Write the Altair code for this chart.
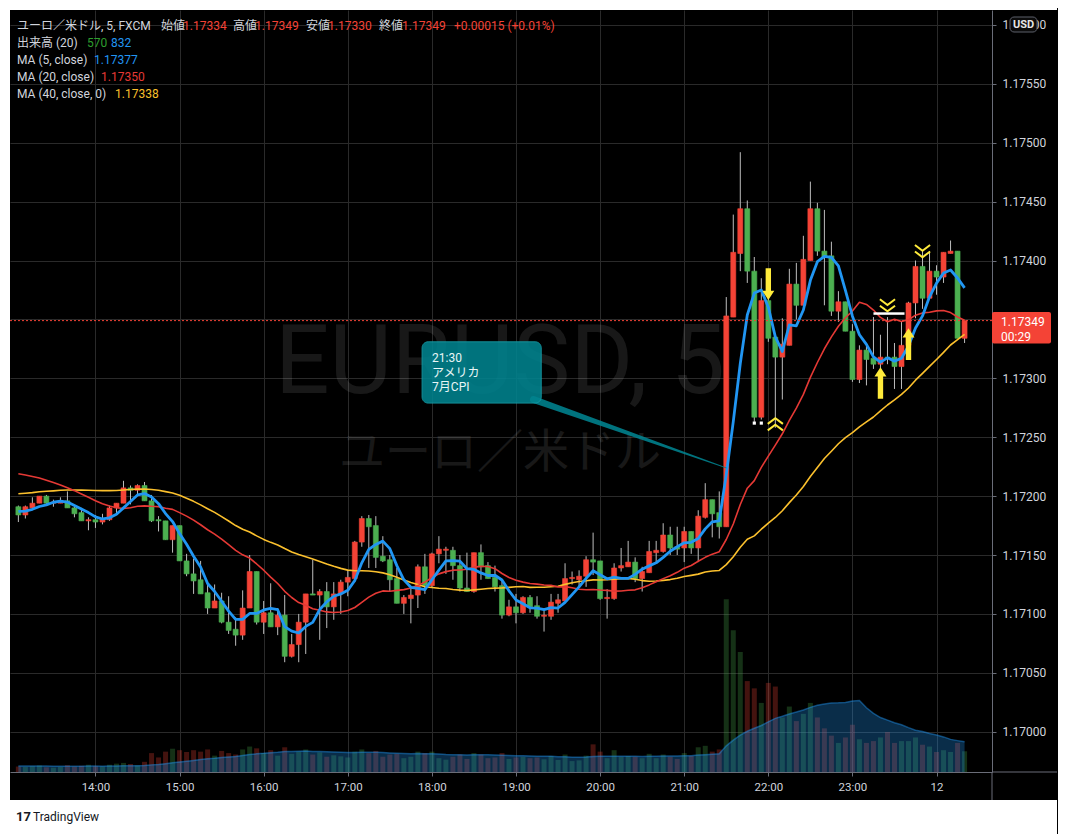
import altair as alt
import pandas as pd

# ---------------- data (EUR/USD 5-min, FXCM) ----------------
opens = [1.17191, 1.17184, 1.17190, 1.17194, 1.17200, 1.17194, 1.17194, 1.17196, 1.17190, 1.17186,
         1.17179, 1.17180, 1.17178, 1.17180, 1.17190, 1.17194, 1.17207, 1.17205, 1.17209, 1.17196,
         1.17180, 1.17179, 1.17163, 1.17175, 1.17145, 1.17134, 1.17129, 1.17118, 1.17105, 1.17111,
         1.17093, 1.17087, 1.17082, 1.17105, 1.17136, 1.17093, 1.17101, 1.17089, 1.17099, 1.17064,
         1.17074, 1.17093, 1.17117, 1.17116, 1.17119, 1.17106, 1.17117, 1.17127, 1.17130, 1.17161,
         1.17181, 1.17175, 1.17149, 1.17146, 1.17130, 1.17109, 1.17113, 1.17116, 1.17140, 1.17124,
         1.17151, 1.17154, 1.17154, 1.17141, 1.17122, 1.17119, 1.17152, 1.17141, 1.17131, 1.17124,
         1.17099, 1.17106, 1.17101, 1.17114, 1.17107, 1.17098, 1.17098, 1.17109, 1.17111, 1.17130,
         1.17129, 1.17132, 1.17146, 1.17145, 1.17113, 1.17113, 1.17139, 1.17140, 1.17144, 1.17130,
         1.17135, 1.17152, 1.17153, 1.17167, 1.17157, 1.17156, 1.17170, 1.17156, 1.17182, 1.17197,
         1.17186, 1.17174, 1.17352, 1.17406, 1.17444, 1.17391, 1.17267, 1.17366, 1.17335, 1.17318,
         1.17328, 1.17380, 1.17362, 1.17400, 1.17444, 1.17408, 1.17404, 1.17357, 1.17365, 1.17340,
         1.17299, 1.17324, 1.17317, 1.17312, 1.17318, 1.17318, 1.17310, 1.17328, 1.17364, 1.17395,
         1.17368, 1.17391, 1.17386, 1.17406, 1.17408, 1.17334]
highs = [1.17192, 1.17192, 1.17199, 1.17200, 1.17201, 1.17197, 1.17199, 1.17204, 1.17191, 1.17190,
         1.17182, 1.17184, 1.17185, 1.17192, 1.17194, 1.17213, 1.17209, 1.17210, 1.17212, 1.17201,
         1.17183, 1.17179, 1.17175, 1.17175, 1.17151, 1.17147, 1.17145, 1.17125, 1.17125, 1.17118,
         1.17115, 1.17097, 1.17120, 1.17150, 1.17136, 1.17111, 1.17126, 1.17105, 1.17116, 1.17083,
         1.17100, 1.17117, 1.17146, 1.17121, 1.17127, 1.17127, 1.17129, 1.17137, 1.17162, 1.17183,
         1.17184, 1.17183, 1.17166, 1.17150, 1.17139, 1.17116, 1.17123, 1.17142, 1.17151, 1.17152,
         1.17166, 1.17157, 1.17157, 1.17150, 1.17152, 1.17152, 1.17159, 1.17144, 1.17141, 1.17129,
         1.17112, 1.17117, 1.17115, 1.17116, 1.17115, 1.17105, 1.17117, 1.17117, 1.17143, 1.17136,
         1.17137, 1.17149, 1.17169, 1.17145, 1.17121, 1.17143, 1.17156, 1.17162, 1.17148, 1.17140,
         1.17162, 1.17162, 1.17177, 1.17174, 1.17174, 1.17174, 1.17170, 1.17188, 1.17211, 1.17197,
         1.17204, 1.17369, 1.17439, 1.17492, 1.17451, 1.17403, 1.17385, 1.17381, 1.17335, 1.17351,
         1.17393, 1.17398, 1.17421, 1.17467, 1.17449, 1.17443, 1.17416, 1.17374, 1.17365, 1.17346,
         1.17328, 1.17328, 1.17352, 1.17337, 1.17352, 1.17330, 1.17348, 1.17365, 1.17400, 1.17409,
         1.17408, 1.17396, 1.17407, 1.17417, 1.17408, 1.17349]
lows = [1.17178, 1.17181, 1.17189, 1.17194, 1.17192, 1.17191, 1.17194, 1.17190, 1.17182, 1.17179,
        1.17171, 1.17173, 1.17176, 1.17179, 1.17184, 1.17194, 1.17193, 1.17201, 1.17196, 1.17178,
        1.17170, 1.17163, 1.17152, 1.17145, 1.17132, 1.17117, 1.17117, 1.17100, 1.17105, 1.17092,
        1.17083, 1.17073, 1.17078, 1.17105, 1.17091, 1.17083, 1.17089, 1.17082, 1.17059, 1.17063,
        1.17059, 1.17066, 1.17116, 1.17078, 1.17088, 1.17095, 1.17100, 1.17115, 1.17127, 1.17157,
        1.17139, 1.17139, 1.17144, 1.17119, 1.17109, 1.17100, 1.17092, 1.17105, 1.17117, 1.17122,
        1.17143, 1.17134, 1.17129, 1.17119, 1.17119, 1.17118, 1.17129, 1.17130, 1.17119, 1.17096,
        1.17098, 1.17092, 1.17100, 1.17101, 1.17096, 1.17085, 1.17095, 1.17101, 1.17111, 1.17125,
        1.17123, 1.17123, 1.17133, 1.17112, 1.17096, 1.17112, 1.17136, 1.17140, 1.17127, 1.17119,
        1.17135, 1.17144, 1.17152, 1.17150, 1.17150, 1.17144, 1.17151, 1.17144, 1.17181, 1.17165,
        1.17164, 1.17174, 1.17352, 1.17391, 1.17381, 1.17263, 1.17265, 1.17331, 1.17258, 1.17282,
        1.17328, 1.17350, 1.17362, 1.17400, 1.17404, 1.17362, 1.17353, 1.17348, 1.17340, 1.17297,
        1.17296, 1.17294, 1.17308, 1.17301, 1.17312, 1.17291, 1.17291, 1.17328, 1.17351, 1.17359,
        1.17368, 1.17371, 1.17381, 1.17406, 1.17334, 1.17330]
closes = [1.17184, 1.17191, 1.17194, 1.17200, 1.17194, 1.17195, 1.17196, 1.17190, 1.17185, 1.17179,
          1.17180, 1.17178, 1.17181, 1.17190, 1.17194, 1.17207, 1.17205, 1.17209, 1.17196, 1.17179,
          1.17179, 1.17163, 1.17175, 1.17145, 1.17134, 1.17128, 1.17117, 1.17105, 1.17111, 1.17093,
          1.17086, 1.17082, 1.17105, 1.17136, 1.17093, 1.17101, 1.17089, 1.17099, 1.17064, 1.17074,
          1.17093, 1.17117, 1.17116, 1.17119, 1.17106, 1.17117, 1.17127, 1.17131, 1.17161, 1.17181,
          1.17174, 1.17148, 1.17145, 1.17129, 1.17109, 1.17114, 1.17116, 1.17140, 1.17124, 1.17151,
          1.17155, 1.17155, 1.17141, 1.17122, 1.17119, 1.17152, 1.17140, 1.17130, 1.17123, 1.17099,
          1.17106, 1.17101, 1.17114, 1.17106, 1.17098, 1.17099, 1.17110, 1.17112, 1.17130, 1.17131,
          1.17132, 1.17146, 1.17144, 1.17113, 1.17114, 1.17139, 1.17141, 1.17144, 1.17130, 1.17136,
          1.17153, 1.17154, 1.17167, 1.17156, 1.17155, 1.17170, 1.17156, 1.17183, 1.17197, 1.17185,
          1.17174, 1.17353, 1.17407, 1.17444, 1.17391, 1.17267, 1.17366, 1.17334, 1.17318, 1.17329,
          1.17380, 1.17362, 1.17401, 1.17444, 1.17408, 1.17403, 1.17357, 1.17365, 1.17340, 1.17299,
          1.17324, 1.17316, 1.17312, 1.17318, 1.17317, 1.17310, 1.17328, 1.17364, 1.17395, 1.17368,
          1.17391, 1.17386, 1.17407, 1.17408, 1.17334, 1.17349]
volumes = [150, 140, 160, 180, 130, 120, 140, 190, 150, 170, 200,
           160, 150, 200, 230, 250, 220, 180, 280,
           520, 400, 560, 640, 600, 550,
           600, 560, 620, 450, 580, 520,
           480, 620, 700, 650, 520, 600, 450, 680, 500, 560,
           620, 480, 540, 420, 460, 430, 400, 560, 620, 520,
           580, 420, 480, 500, 380, 420, 560, 520, 560, 380,
           340, 420, 480, 360, 520, 480, 380, 400, 520, 360,
           400, 420, 380, 400, 350, 440, 330, 480, 300, 320,
           450, 760, 560, 380, 600, 420, 440, 420, 380, 500,
           380, 480, 420, 360, 520, 440, 680, 720, 560, 620,
           4750, 3900, 3300, 2500, 2300, 1900, 2450, 2350, 1500, 1800, 1400, 1600, 1900, 1500, 1200,
           1000, 800, 950, 1300, 900, 800, 850, 950, 1100, 800, 850, 850, 950, 750, 700, 550, 600,
           550, 800, 570]
# closes / volumes just before the visible window (only seed the moving averages, not drawn)
prior_closes = [1.17172, 1.17175, 1.17170, 1.17178, 1.17180, 1.17176, 1.17182, 1.17185, 1.17181, 1.17186,
                1.17188, 1.17184, 1.17190, 1.17187, 1.17192, 1.17189, 1.17194, 1.17191, 1.17196, 1.17204,
                1.17212, 1.17220, 1.17226, 1.17231, 1.17235, 1.17238, 1.17236, 1.17234, 1.17237, 1.17235,
                1.17236, 1.17232, 1.17229, 1.17224, 1.17220, 1.17190, 1.17186, 1.17188, 1.17187]
prior_volumes = [180, 160, 170, 150, 190, 170, 160, 180, 150, 170, 160, 190, 170, 150, 180, 170, 160, 175, 165]

# signal markers drawn by an indicator (candle index, price)
arrow_down = [(107, 1.17380)]
arrow_up = [(123, 1.17296), (127, 1.17329)]
chevron_up = [(108, 1.17261)]
chevron_down = [(124, 1.17362), (129, 1.17408)]
white_dots = [(105, 1.17262), (106, 1.17262)]
white_level = (122, 127, 1.17355)

# callout drawing (TradingView "callout" anchored in time / price)
callout_lines = ["21:30", "アメリカ", "7月CPI"]
callout_box = ("2021-08-11T17:53:00", "2021-08-11T19:18:00", 1.17331, 1.17279)
callout_base = ("2021-08-11T19:12:30", 1.17282)
callout_tip = (101, 1.17224)

# ---------------- styling ----------------
RED = "#f44336"
GREEN = "#4caf50"
WICK = "#bdbdbd"
GRID = "#2a2a2a"
AXISLINE = "#6a6d78"
LABEL = "#d1d4dc"
MA5C, MA20C, MA40C = "#2196f3", "#e53935", "#fbc02d"
YEL = "#ffeb3b"
TEAL = "#00838f"
FONT = "Roboto, 'Noto Sans CJK JP', sans-serif"
JP = "'Noto Sans CJK JP', sans-serif"

times = pd.date_range("2021-08-11 13:05", periods=len(closes), freq="5min")
prior_times = pd.date_range(end=times[0] - pd.Timedelta(minutes=5), periods=len(prior_closes), freq="5min")
iso = lambda ts: ts.strftime("%Y-%m-%dT%H:%M:%S")
T = [iso(t) for t in times]

rows = []
skip = len(prior_closes) - len(prior_volumes)
for i, ts in enumerate(prior_times):
    rows.append({"t": iso(ts), "open": None, "high": None, "low": None, "close": prior_closes[i],
                 "volume": prior_volumes[i - skip] if i >= skip else None, "vis": 0})
for i in range(len(closes)):
    rows.append({"t": T[i], "open": opens[i], "high": highs[i], "low": lows[i], "close": closes[i],
                 "volume": volumes[i], "vis": 1})
df = pd.DataFrame(rows)

x_dom = [alt.DateTime(year=2021, month=8, date=11, hours=13, minutes=2, seconds=36),
         alt.DateTime(year=2021, month=8, date=12, hours=0, minutes=36)]
x_ticks = [alt.DateTime(year=2021, month=8, date=11, hours=h) for h in range(14, 24)] + \
          [alt.DateTime(year=2021, month=8, date=12, hours=0)]
XAXIS = alt.Axis(values=x_ticks, labelExpr="hours(datum.value) == 0 ? '12' : timeFormat(datum.value, '%H:%M')",
                 grid=True, gridColor=GRID, domainColor=AXISLINE, tickColor=AXISLINE, tickSize=4,
                 labelColor=LABEL, labelFont=FONT, labelFontSize=11.5, labelPadding=5, labelFlush=False,
                 title=None)
p_dom = [1.169658, 1.176127]
p_ticks = [round(1.170 + 0.0005 * k, 5) for k in range(13)]
PAXIS = alt.Axis(orient="right", values=p_ticks, format=".5f", grid=True, gridColor=GRID,
                 domainColor=AXISLINE, tickColor=AXISLINE, tickSize=4, labelColor=LABEL, labelFont=FONT,
                 labelFontSize=12, labelPadding=6, labelFlush=False, title=None)
VSCALE = alt.Scale(domain=[0, 20955], nice=False)


def xt(field):
    return alt.X(f"{field}:T", scale=alt.Scale(domain=x_dom), axis=XAXIS)


def yp(field):
    return alt.Y(f"{field}:Q", scale=alt.Scale(domain=p_dom, zero=False, nice=False), axis=PAXIS)


dummy = pd.DataFrame({"d": [0]})


def txt(s, x, y, color, size=12, align="left", baseline="middle", font=FONT, weight="normal", opacity=1.0):
    return alt.Chart(dummy).mark_text(text=s, align=align, baseline=baseline, font=font, fontSize=size,
                                      fontWeight=weight, color=color, opacity=opacity).encode(
        x=alt.value(x), y=alt.value(y))


def box(x, x2, y, y2, fill, stroke=None, radius=0, opacity=1.0, sw=1):
    kw = dict(color=fill, cornerRadius=radius, opacity=opacity)
    if stroke:
        kw.update(stroke=stroke, strokeWidth=sw)
    return alt.Chart(dummy).mark_rect(**kw).encode(x=alt.value(x), x2=alt.value(x2), y=alt.value(y),
                                                    y2=alt.value(y2))


def seg(x, x2, y, y2, color, w=1):
    return alt.Chart(dummy).mark_rule(color=color, strokeWidth=w).encode(
        x=alt.value(x), x2=alt.value(x2), y=alt.value(y), y2=alt.value(y2))


base = alt.Chart(df)
vis = base.transform_filter("datum.vis == 1")
up = "datum.close >= datum.open"

# volume pane
vbase = base.transform_window(vma="mean(volume)", frame=[-19, 0], sort=[alt.SortField("t")]) \
    .transform_filter("datum.vis == 1")
vbars = vbase.mark_bar(size=5, opacity=0.28).encode(
    x=xt("t"), y=alt.Y("volume:Q", scale=VSCALE, axis=None),
    color=alt.condition(up, alt.value(GREEN), alt.value(RED)))
varea = vbase.mark_area(color="#2196f3", opacity=0.30).encode(
    x=xt("t"), y=alt.Y("vma:Q", scale=VSCALE, axis=None))
vline = vbase.mark_line(color="#2196f3", opacity=0.45, strokeWidth=1.5).encode(
    x=xt("t"), y=alt.Y("vma:Q", scale=VSCALE, axis=None))
vol_layer = alt.layer(vbars, varea, vline)

# candles
wicks = vis.mark_rule(color=WICK, strokeWidth=1).encode(x=xt("t"), y=yp("low"), y2="high:Q")
bodies = vis.mark_bar(size=5, strokeWidth=0.6).encode(
    x=xt("t"), y=yp("open"), y2="close:Q",
    color=alt.condition(up, alt.value(RED), alt.value(GREEN)),
    stroke=alt.condition(up, alt.value(RED), alt.value(GREEN)))


def ma(n, name, color, width):
    return base.transform_window(**{name: "mean(close)"}, frame=[-(n - 1), 0], sort=[alt.SortField("t")]) \
        .transform_filter("datum.vis == 1") \
        .mark_line(color=color, strokeWidth=width, strokeJoin="round").encode(x=xt("t"), y=yp(name))


ma40 = ma(40, "ma40", MA40C, 1.6)
ma20 = ma(20, "ma20", MA20C, 1.6)
ma5 = ma(5, "ma5", MA5C, 2.8)

# signal markers
DOWN_ARROW = "M-0.17,-1 L0.17,-1 L0.17,0.42 L0.38,0.42 L0,1 L-0.38,0.42 L-0.17,0.42 Z"
UP_ARROW = "M-0.17,1 L0.17,1 L0.17,-0.42 L0.38,-0.42 L0,-1 L-0.38,-0.42 L-0.17,-0.42 Z"
CHEV_DOWN = "M-1,-0.8 L0,-0.05 L1,-0.8 M-1,0.05 L0,0.8 L1,0.05"
CHEV_UP = "M-1,0.8 L0,0.05 L1,0.8 M-1,-0.05 L0,-0.8 L1,-0.05"


def sig_df(items):
    return pd.DataFrame({"t": [T[i] for i, _ in items], "p": [p for _, p in items]})


sig_layers = [
    alt.Chart(sig_df(arrow_down)).mark_point(shape=DOWN_ARROW, filled=True, size=1000, color=YEL, opacity=1)
    .encode(x=xt("t"), y=yp("p")),
    alt.Chart(sig_df(arrow_up)).mark_point(shape=UP_ARROW, filled=True, size=1000, color=YEL, opacity=1)
    .encode(x=xt("t"), y=yp("p")),
    alt.Chart(sig_df(chevron_up)).mark_point(shape=CHEV_UP, filled=False, size=230, color=YEL, strokeWidth=2,
                                             opacity=1).encode(x=xt("t"), y=yp("p")),
    alt.Chart(sig_df(chevron_down)).mark_point(shape=CHEV_DOWN, filled=False, size=230, color=YEL,
                                               strokeWidth=2, opacity=1).encode(x=xt("t"), y=yp("p")),
    alt.Chart(sig_df(white_dots)).mark_square(size=10, color="white", opacity=1)
    .encode(x=xt("t"), y=yp("p")),
    alt.Chart(pd.DataFrame({"t": [T[white_level[0]]], "t2": [T[white_level[1]]], "p": [white_level[2]]}))
    .mark_rule(color="white", strokeWidth=2.5, x2Offset=-4).encode(x=xt("t"), x2="t2:T", y=yp("p")),
]

# current price line + label
last = pd.DataFrame({"p": [closes[-1]]})
price_line = alt.Chart(last).mark_rule(color=RED, strokeDash=[2, 2], strokeWidth=1).encode(y=yp("p"))
price_box = alt.Chart(last).mark_rect(color=RED, cornerRadius=2, yOffset=-8.5, y2Offset=23).encode(
    x=alt.value(982), x2=alt.value(1041), y=yp("p"), y2="p:Q")
price_txt1 = alt.Chart(last).mark_text(text=f"{closes[-1]:.5f}", align="left", baseline="middle", dy=1,
                                       font=FONT, fontSize=12, color="white").encode(x=alt.value(991), y=yp("p"))
price_txt2 = alt.Chart(last).mark_text(text="00:29", align="left", baseline="middle", dy=16,
                                       font=FONT, fontSize=12, color="white").encode(x=alt.value(991), y=yp("p"))

# callout
cb = pd.DataFrame({"t0": [callout_box[0]], "t1": [callout_box[1]], "top": [callout_box[2]],
                   "bot": [callout_box[3]]})
callout_rect = alt.Chart(cb).mark_rect(color=TEAL, opacity=0.88, cornerRadius=6, stroke="#17a2ad",
                                       strokeWidth=1).encode(x=xt("t0"), x2="t1:T", y=yp("top"), y2="bot:Q")
ptr = pd.DataFrame({"t": [callout_base[0], T[callout_tip[0]]], "p": [callout_base[1], callout_tip[1]],
                    "w": [7, 1], "o": [0, 1]})
callout_ptr = alt.Chart(ptr).mark_trail(color=TEAL, opacity=0.88).encode(
    x=xt("t"), y=yp("p"), size=alt.Size("w:Q", scale=None, legend=None), order="o:Q")
callout_txt = [
    alt.Chart(cb).mark_text(text=s, align="left", baseline="middle", dx=10, dy=dy, font=FONT, fontSize=12,
                            color="#e8f6f7").encode(x=xt("t0"), y=yp("top"))
    for s, dy in zip(callout_lines, [16.5, 31, 45.5])
]

price_layer = alt.layer(wicks, bodies, ma40, ma20, ma5, *sig_layers, price_line, callout_ptr, callout_rect,
                        *callout_txt, price_box, price_txt1, price_txt2)

# watermark
wm1 = txt("EURUSD, 5", 490, 383, "white", size=96, align="center", baseline="alphabetic", opacity=0.095)
wm2 = txt("ユーロ／米ドル", 490, 443, "white", size=46, align="center", font=JP, opacity=0.095)

# legend / header
chg = closes[-1] - closes[-2]
hdr = [
    txt("ユーロ／米ドル, 5, FXCM", 7, 16, LABEL),
    txt("始値", 151, 16, LABEL), txt(f"{opens[-1]:.5f}", 173, 16, RED),
    txt("高値", 223, 16, LABEL), txt(f"{highs[-1]:.5f}", 245, 16, RED),
    txt("安値", 296, 16, LABEL), txt(f"{lows[-1]:.5f}", 318, 16, RED),
    txt("終値", 369, 16, LABEL), txt(f"{closes[-1]:.5f}", 392, 16, RED),
    txt(f"+{chg:.5f} (+{chg / closes[-2] * 100:.2f}%)", 444, 16, RED),
    txt("出来高 (20)", 7, 33, LABEL), txt("570", 77, 33, "#2e9e2e"), txt("832", 101, 33, MA5C),
    txt("MA (5, close)", 7, 50, LABEL), txt("1.17377", 84, 50, MA5C),
    txt("MA (20, close)", 7, 67, LABEL), txt("1.17350", 91, 67, MA20C),
    txt("MA (40, close, 0)", 7, 84, LABEL), txt("1.17338", 105, 84, MA40C),
]

# USD badge, frame lines, page strip, logo
badge = [box(1000, 1027, 7, 22, "#0b0b0b", stroke="#5d606b", radius=4),
         txt("USD", 1013.5, 14.5, "#e6e6e6", size=11, align="center", weight="bold")]
frame = [seg(982, 982, 762, 790, AXISLINE), seg(982, 1047, 762, 762, AXISLINE)]
page = [box(-2, 1047, 790, 824, "white"), box(-2, 0, -2, 790, "white"), box(-2, 1047, -2, 0, "white"),
        txt("17", 6, 807, "#131722", size=13, weight="bold"),
        txt("TradingView", 23, 807, "#131722", size=12)]

chart = alt.layer(wm1, wm2, vol_layer, price_layer, *hdr, *badge, *frame, *page) \
    .resolve_scale(y="independent") \
    .properties(width=982, height=762, background="#000000",
                padding={"left": 0, "top": 0, "right": 0, "bottom": 0}) \
    .configure_view(stroke=None)

chart.save("out.html", embed_options={"renderer": "svg", "actions": False})
